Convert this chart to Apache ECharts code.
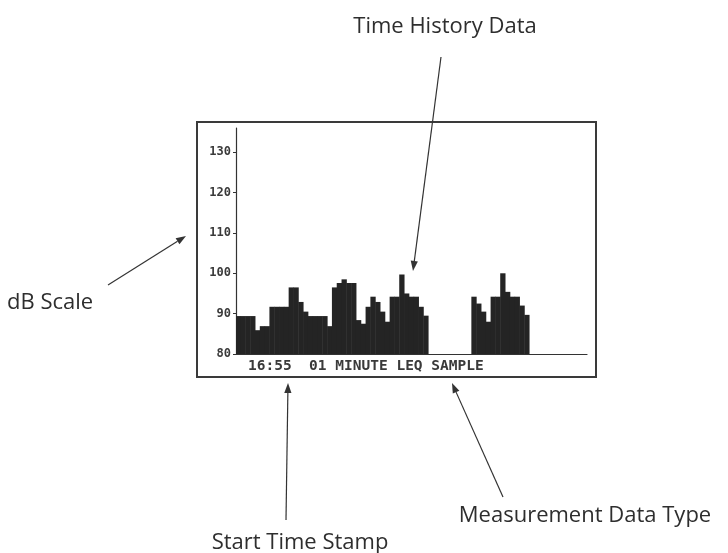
<!DOCTYPE html>
<html>
<head>
<meta charset="utf-8">
<script src="https://cdn.jsdelivr.net/npm/echarts@6/dist/echarts.min.js"></script>
<style>
  html, body { margin: 0; padding: 0; background: #fff; }
  #chart { width: 728px; height: 553px; }
</style>
</head>
<body>
<div id="chart"></div>
<script>
// one-minute Leq samples (null = no sample)
var levels = [
  89.4, 89.4, 89.4, 89.4, 85.9, 86.9, 86.9, 91.7, 91.7, 91.7,
  91.7, 96.5, 96.5, 92.9, 90.5, 89.4, 89.4, 89.4, 89.4, 86.9,
  96.5, 97.6, 98.5, 97.6, 97.6, 88.4, 87.5, 91.7, 94.2, 92.9,
  90.5, 88.0, 94.2, 94.2, 99.7, 95.0, 94.2, 94.2, 91.7, 89.5,
  null, null, null, null, null, null, null, null, null,
  94.2, 92.5, 90.5, 88.0, 94.2, 94.2, 100.0, 95.4, 94.2, 94.2,
  92.0, 89.7,
  null, null, null, null, null, null, null, null, null, null, null, null
];
var yTicks = [80, 90, 100, 110, 120, 130];
var screenText = '16:55  01 MINUTE LEQ SAMPLE';
var callouts = ['Time History Data', 'dB Scale', 'Start Time Stamp', 'Measurement Data Type'];

// minute slots along the x axis, starting at 16:55
var slots = [];
for (var i = 0; i < levels.length; i++) {
  var m = 55 + i;
  var hh = 16 + Math.floor(m / 60), mm = m % 60;
  slots.push(hh + ':' + (mm < 10 ? '0' : '') + mm);
}

var ink = '#333';
var labelFont = '22px "Open Sans", sans-serif';

function arrow(x1, y1, x2, y2) {
  var a = Math.atan2(y2 - y1, x2 - x1);
  var len = 10, half = 3.6;
  var bx = x2 - len * Math.cos(a), by = y2 - len * Math.sin(a);
  return [
    { type: 'line', silent: true,
      shape: { x1: x1, y1: y1, x2: bx, y2: by },
      style: { stroke: ink, lineWidth: 1.2 } },
    { type: 'polygon', silent: true,
      shape: { points: [[x2, y2],
        [bx - half * Math.sin(a), by + half * Math.cos(a)],
        [bx + half * Math.sin(a), by - half * Math.cos(a)]] },
      style: { fill: ink } }
  ];
}

function label(text, x, y, align) {
  return { type: 'text', silent: true, x: x, y: y,
    style: { text: text, fill: '#2e2e2e', font: labelFont,
      textAlign: align, align: align, textVerticalAlign: 'middle', verticalAlign: 'middle' } };
}

var graphics = [
  { type: 'rect', silent: true, z: -1,
    shape: { x: 197, y: 122, width: 399, height: 255 },
    style: { fill: 'none', stroke: '#3a3a3a', lineWidth: 2 } },
  { type: 'text', silent: true, x: 248, y: 366,
    style: { text: screenText, fill: '#3a3a3a',
      font: 'bold 14.5px "DejaVu Sans Mono", monospace',
      textAlign: 'left', align: 'left', textVerticalAlign: 'middle', verticalAlign: 'middle' } },
  label(callouts[0], 445, 27, 'center'),
  label(callouts[1], 7, 303, 'left'),
  label(callouts[2], 300, 543, 'center'),
  label(callouts[3], 585, 516, 'center')
]
  .concat(arrow(441, 57, 413, 271))
  .concat(arrow(108, 285, 186, 236))
  .concat(arrow(286, 520, 288, 383))
  .concat(arrow(503, 497, 452, 383));

var chart = echarts.init(document.getElementById('chart'));
chart.setOption({
  animation: false,
  grid: { left: 236, right: 141, top: 128, bottom: 199 },
  xAxis: {
    type: 'category',
    data: slots,
    boundaryGap: true,
    axisLine: { lineStyle: { color: ink, width: 1.2 } },
    axisTick: { show: false },
    axisLabel: { show: false },
    splitLine: { show: false }
  },
  yAxis: {
    type: 'value',
    min: 80,
    max: 136,
    interval: 10,
    axisLine: { show: true, lineStyle: { color: ink, width: 1.2 } },
    axisTick: { show: true, length: 3, lineStyle: { color: ink } },
    splitLine: { show: false },
    axisLabel: {
      margin: 5,
      showMaxLabel: false,
      color: '#3a3a3a',
      fontFamily: '"DejaVu Sans Mono", monospace',
      fontWeight: 'bold',
      fontSize: 12,
      formatter: function (v) { return yTicks.indexOf(v) >= 0 ? String(v) : ''; }
    }
  },
  series: [{
    type: 'bar',
    data: levels,
    barWidth: 5.3,
    itemStyle: { color: '#242424' }
  }],
  graphic: graphics
});
</script>
</body>
</html>
